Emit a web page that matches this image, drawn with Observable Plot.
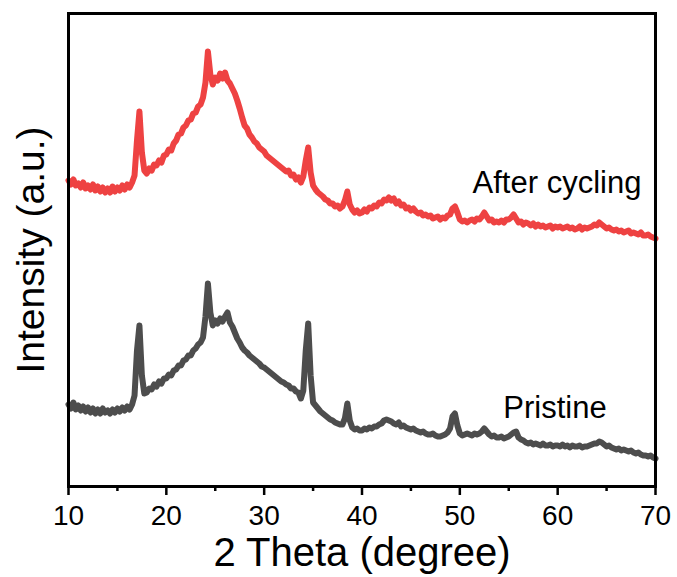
<!DOCTYPE html>
<html>
<head>
<meta charset="utf-8">
<script src="https://cdn.jsdelivr.net/npm/d3@7"></script>
<script src="https://cdn.jsdelivr.net/npm/@observablehq/plot@0.6"></script>
<style>
  html, body { margin: 0; padding: 0; background: #fff; }
  #chart svg { display: block; }
</style>
</head>
<body>
<div id="chart"></div>
<script>
// 2θ sampling positions (degree)
const twoTheta = [
  10,10.25,10.5,10.75, 11,11.25,11.5,11.75, 12,12.25,12.5,12.75, 13,13.25,13.5,13.75,
  14,14.25,14.5,14.75, 15,15.25,15.5,15.75, 16,16.25,16.5,16.75, 17,17.25,17.5,17.75,
  18,18.25,18.5,18.75, 19,19.25,19.5,19.75, 20,20.25,20.5,20.75, 21,21.25,21.5,21.75,
  22,22.25,22.5,22.75, 23,23.25,23.5,23.75, 24,24.25,24.5,24.75, 25,25.25,25.5,25.75,
  26,26.25,26.5,26.75, 27,27.25,27.5,27.75, 28,28.25,28.5,28.75, 29,29.25,29.5,29.75,
  30,30.25,30.5,30.75, 31,31.25,31.5,31.75, 32,32.25,32.5,32.75, 33,33.25,33.5,33.75,
  34,34.25,34.5,34.75, 35,35.25,35.5,35.75, 36,36.25,36.5,36.75, 37,37.25,37.5,37.75,
  38,38.25,38.5,38.75, 39,39.25,39.5,39.75, 40,40.25,40.5,40.75, 41,41.25,41.5,41.75,
  42,42.25,42.5,42.75, 43,43.25,43.5,43.75, 44,44.25,44.5,44.75, 45,45.25,45.5,45.75,
  46,46.25,46.5,46.75, 47,47.25,47.5,47.75, 48,48.25,48.5,48.75, 49,49.25,49.5,49.75,
  50,50.25,50.5,50.75, 51,51.25,51.5,51.75, 52,52.25,52.5,52.75, 53,53.25,53.5,53.75,
  54,54.25,54.5,54.75, 55,55.25,55.5,55.75, 56,56.25,56.5,56.75, 57,57.25,57.5,57.75,
  58,58.25,58.5,58.75, 59,59.25,59.5,59.75, 60,60.25,60.5,60.75, 61,61.25,61.5,61.75,
  62,62.25,62.5,62.75, 63,63.25,63.5,63.75, 64,64.25,64.5,64.75, 65,65.25,65.5,65.75,
  66,66.25,66.5,66.75, 67,67.25,67.5,67.75, 68,68.25,68.5,68.75, 69,69.25,69.5,69.75,
  70
];

// Intensity (a.u., stacked offset) – After cycling
const afterCycling = [
  320,316,321,315, 317,313,318,312, 315,311,316,310, 314,309,313,308,
  312,308,314,309, 313,310,315,311, 316,313,318,325, 360,389,348,330,
  327,332,330,336, 335,340,338,345, 346,351,350,357, 360,366,367,373,
  375,380,381,387, 388,394,396,403, 418,449,426,416, 423,420,427,422,
  428,420,417,412, 407,400,392,383, 375,372,366,363, 359,357,353,351,
  349,345,343,341, 339,337,335,333, 331,329,330,325, 326,321,323,318,
  324,340,353,328, 315,311,308,306, 304,301,300,297, 297,294,295,292,
  294,300,309,296, 291,288,290,287, 288,291,289,293, 292,295,294,298,
  297,301,300,303, 300,302,297,299, 295,296,292,293, 290,292,289,287,
  288,285,286,284, 285,282,283,284, 281,283,282,285, 286,292,294,288,
  281,279,280,278, 280,281,279,282, 281,284,288,284, 280,281,278,279,
  278,280,278,281, 281,283,286,282, 278,279,276,278, 277,275,277,274,
  276,274,275,273, 274,275,272,274, 273,274,272,273, 274,272,273,271,
  272,274,271,273, 272,273,274,276, 275,278,276,274, 272,273,271,270,
  271,269,270,268, 269,270,267,268, 267,266,268,265, 265,266,264,263,
  262
];

// Intensity (a.u.) – Pristine
const pristine = [
  96,92,98,91, 95,90,94,89, 93,88,92,87, 91,87,92,88,
  90,87,91,88, 92,89,93,90, 94,91,96,105, 150,175,125,107,
  108,112,111,116, 114,119,117,122, 122,126,125,130, 131,135,135,140,
  141,145,145,150, 152,156,158,163, 184,217,188,175, 180,177,182,179,
  184,188,178,174, 168,162,158,153, 150,148,145,143, 141,139,137,134,
  133,131,129,127, 125,123,121,119, 118,116,115,112, 112,109,108,102,
  110,150,177,125, 98,95,92,89, 87,85,83,81, 80,78,77,76,
  76,82,97,80, 73,71,72,70, 70,72,71,73, 72,74,74,76,
  77,80,81,80, 79,77,76,78, 74,75,73,72, 71,72,70,69,
  68,69,67,66, 66,67,65,64, 64,65,66,68, 72,84,87,75,
  67,65,66,67, 66,65,67,66, 67,69,72,69, 66,64,65,63,
  63,64,62,63, 64,66,68,69, 63,61,60,58, 57,58,56,57,
  56,55,57,55, 55,56,54,55, 55,54,56,54, 55,53,55,54,
  54,55,53,54, 54,55,56,57, 57,59,58,56, 54,55,53,52,
  51,52,50,51, 50,49,50,48, 47,48,46,45, 45,44,45,43,
  42
];

const majorTicks = [10, 20, 30, 40, 50, 60, 70];
const minorTicks = [15, 25, 35, 45, 55, 65];
const seriesLabels = ["After cycling", "Pristine"];
const labelPos = [{x: 51.3, y: 308}, {x: 54.45, y: 83}];

const afterData = twoTheta.map((t, i) => ({t, v: afterCycling[i]}));
const pristineData = twoTheta.map((t, i) => ({t, v: pristine[i]}));
const labelData = seriesLabels.map((s, i) => ({label: s, ...labelPos[i]}));

const font = "Arial, 'Liberation Sans', sans-serif";

const chart = Plot.plot({
  width: 677,
  height: 577,
  marginLeft: 68,
  marginRight: 22,
  marginTop: 13,
  marginBottom: 91,
  style: {fontFamily: font, background: "#fff", color: "#000"},
  x: {domain: [10, 70]},
  y: {domain: [14, 487], axis: null},
  marks: [
    Plot.line(pristineData, {x: "t", y: "v", stroke: "#4d4d4d", strokeWidth: 6, strokeLinejoin: "round"}),
    Plot.line(afterData, {x: "t", y: "v", stroke: "#ee4242", strokeWidth: 6, strokeLinejoin: "round"}),
    Plot.axisX({ticks: majorTicks, tickSize: 9, tickPadding: 10, fontSize: 28, strokeWidth: 2.5, label: null, tickFormat: d => d}),
    Plot.axisX({ticks: minorTicks, tickSize: 5, strokeWidth: 2.5, label: null, tickFormat: () => ""}),
    Plot.frame({stroke: "#000", strokeWidth: 3}),
    Plot.text(labelData, {x: "x", y: "y", text: "label", textAnchor: "start", lineAnchor: "bottom", fontSize: 31, fill: "#000"}),
    Plot.text(["2 Theta (degree)"], {frameAnchor: "bottom", dy: 79, lineAnchor: "bottom", fontSize: 40, fill: "#000"}),
    Plot.text(["Intensity (a.u.)"], {frameAnchor: "left", rotate: -90, dx: -25, textAnchor: "middle", lineAnchor: "bottom", fontSize: 39, fill: "#000"})
  ]
});
document.getElementById("chart").appendChild(chart);
</script>
</body>
</html>
